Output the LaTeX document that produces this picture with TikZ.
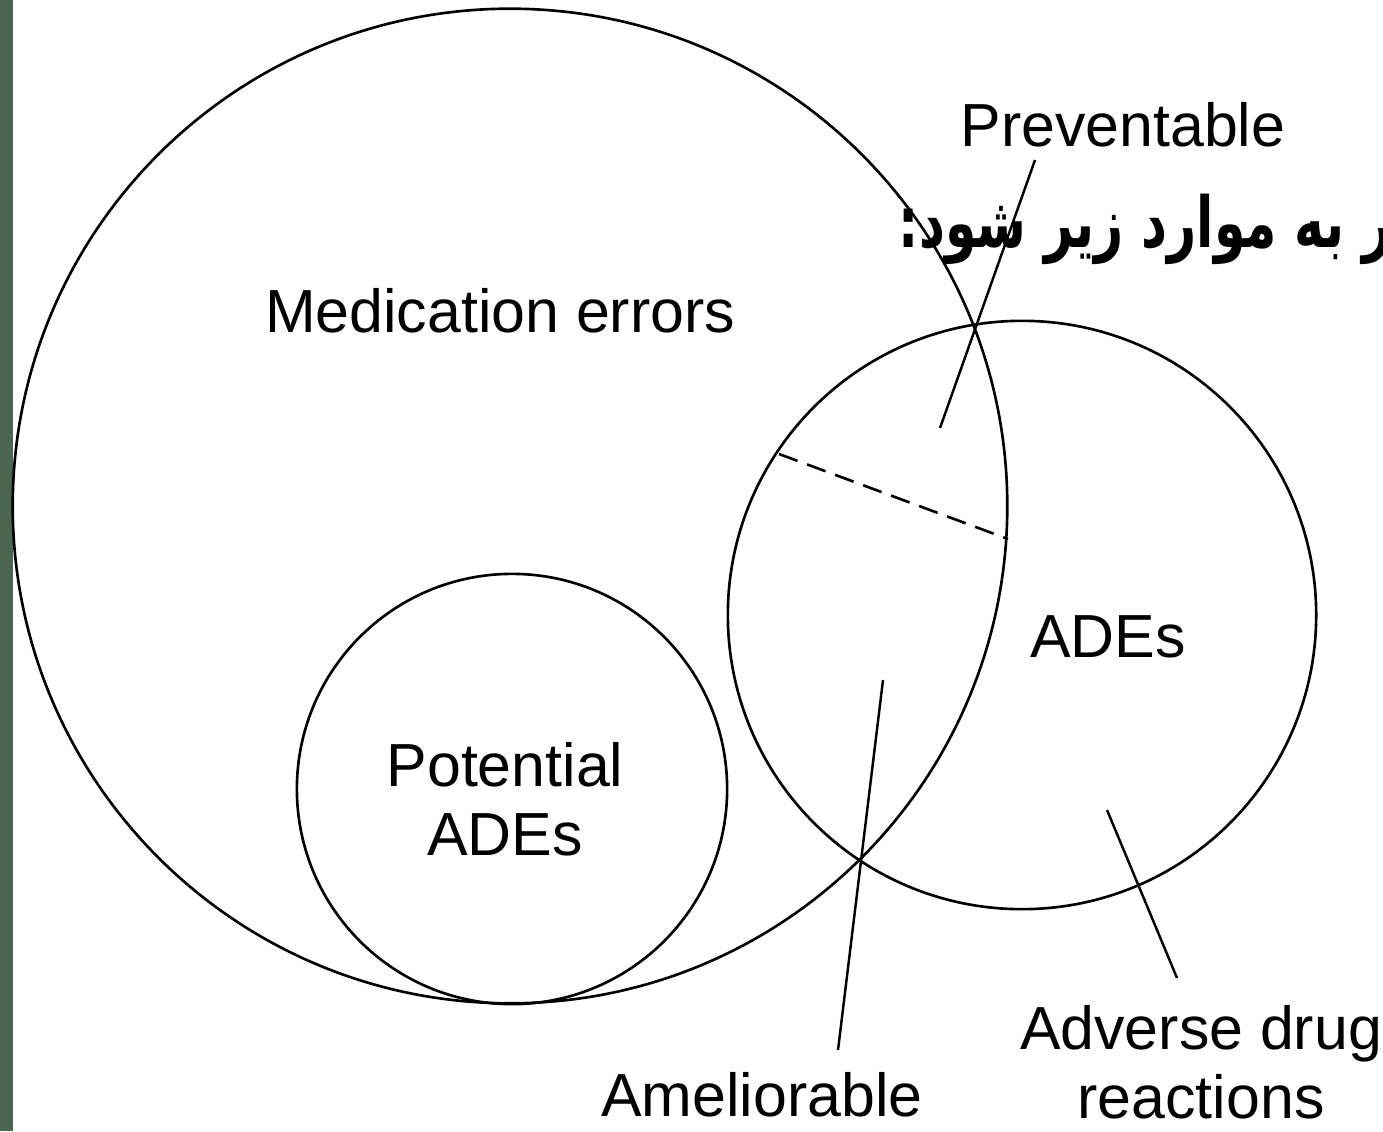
\documentclass[tikz,border=0pt]{standalone}
\usepackage{fontspec}
\setmainfont{Liberation Sans}
\newfontfamily\persianfont[Script=Arabic]{DejaVu Sans}
\TeXXeTstate=1
\usepackage{tikz}
\usetikzlibrary{calc,positioning}
\definecolor{slidegreen}{HTML}{4B6650}

\tikzset{
  venn/.style={line width=0.75pt},
  leader/.style={line width=0.7pt},
  lbl/.style={font=\fontsize{17.3pt}{19.6pt}\selectfont, align=center, inner sep=0pt}
}

\begin{document}
\begin{tikzpicture}[x=0.01cm,y=-0.01cm]
 \useasboundingbox (0,0) rectangle (1383,1131);
 % slide edge
 \fill[slidegreen] (0,0) rectangle (13,1131);
 % circles
 \draw[venn] (510,506) circle[radius=4.97cm];
 \draw[venn] (512,789) circle[radius=2.15cm];
 \draw[venn] (1022,615) circle[radius=2.94cm];
 % split of the overlap
 \draw[venn,dash pattern=on 5.6pt off 2.9pt] (779,454) -- (1008,539);
 % labels
 \node[lbl] (meder) at (500,311) {Medication errors};
 \node[lbl] (potade) at (505,799) {Potential\\ADEs};
 \node[lbl] (ades) at (1108,637) {ADEs};
 \node[lbl] (prev) at (1123,125) {Preventable};
 \node[lbl] (amel) at (762,1095) {Ameliorable};
 \node[lbl] (adr) at (1201,1062) {Adverse drug\\reactions};
 % leader lines
 \coordinate (prevtop) at (1035,160);
 \coordinate (prevtip) at (940,428);
 \coordinate (ameltop) at (883,680);
 \coordinate (amelbot) at (838,1050);
 \coordinate (adrtip) at (1107,810);
 \coordinate (adrbot) at (1177,978);
 \draw[leader] (prevtop) -- (prevtip);
 \draw[leader] (ameltop) -- (amelbot);
 \draw[leader] (adrtip) -- (adrbot);
 % slide text cut at the edge
 \node[anchor=base east, inner sep=0pt, font=\persianfont\bfseries\fontsize{20pt}{23pt}\selectfont] (fatext) at (1392,248) {\scalebox{0.72}[1]{\beginR ر به موارد زیر شود:\endR}};
\end{tikzpicture}
\end{document}
